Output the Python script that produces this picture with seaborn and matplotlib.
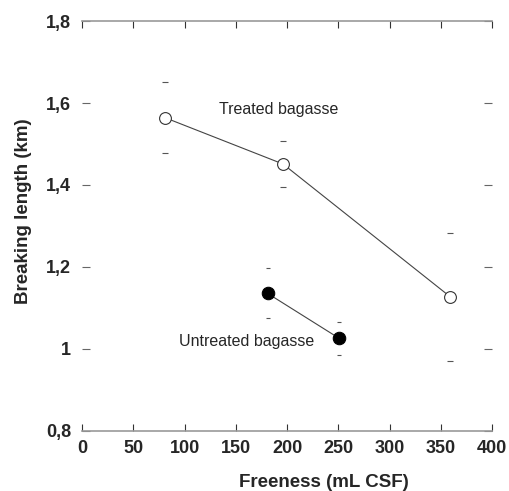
import seaborn as sns
import pandas as pd
import matplotlib.pyplot as plt
import numpy as np

# values
treated_x = [81, 196, 359]
treated_y = [1.564, 1.451, 1.127]
treated_err = [0.087, 0.057, 0.156]

untreated_x = [181, 251]
untreated_y = [1.135, 1.025]
untreated_err = [0.061, 0.041]

x_ticks = [0, 50, 100, 150, 200, 250, 300, 350, 400]
y_ticks = [0.8, 1.0, 1.2, 1.4, 1.6, 1.8]
y_labels = ['0,8', '1', '1,2', '1,4', '1,6', '1,8']

sns.set_style('white')
plt.rcParams['font.family'] = ['Liberation Sans', 'DejaVu Sans']

df_t = pd.DataFrame({'freeness': treated_x, 'length': treated_y})
df_u = pd.DataFrame({'freeness': untreated_x, 'length': untreated_y})

fig = plt.figure(figsize=(5.1, 4.91), dpi=100)
ax = fig.add_axes([0.161, 0.123, 0.804, 0.834])

sns.lineplot(data=df_t, x='freeness', y='length', ax=ax, color='#444444', lw=0.8,
             marker='o', markersize=8.5, markerfacecolor='white',
             markeredgecolor='#333333', markeredgewidth=0.8)
sns.lineplot(data=df_u, x='freeness', y='length', ax=ax, color='#444444', lw=0.8,
             marker='o', markersize=9, markerfacecolor='black',
             markeredgecolor='black')

# only caps are visible on the error bars
ax.errorbar(treated_x, treated_y, yerr=treated_err, fmt='none', elinewidth=0,
            capsize=2, capthick=0.8, ecolor='#555555')
ax.errorbar(untreated_x, untreated_y, yerr=untreated_err, fmt='none', elinewidth=0,
            capsize=1.5, capthick=0.8, ecolor='#555555')

ax.text(134, 1.585, 'Treated bagasse', fontsize=11.5, va='center', ha='left')
ax.text(95, 1.017, 'Untreated bagasse', fontsize=11.5, va='center', ha='left')

ax.set_xlim(0, 400)
ax.set_ylim(0.8, 1.8)
ax.set_xticks(x_ticks)
ax.set_yticks(y_ticks)
ax.set_yticklabels(y_labels)
for lab in ax.get_xticklabels() + ax.get_yticklabels():
    lab.set_fontweight('bold')
    lab.set_fontsize(13)

ax.tick_params(axis='x', direction='in', length=5, width=0.8, color='#333333',
               top=True, bottom=True, pad=7)
ax.tick_params(axis='y', direction='in', length=6, width=0.8, color='#666666',
               left=True, right=True, pad=8)

for side in ['left', 'right']:
    ax.spines[side].set_visible(False)
for side in ['top', 'bottom']:
    ax.spines[side].set_color('#999999')
    ax.spines[side].set_linewidth(1.2)

ax.set_xlabel('Freeness (mL CSF)', fontsize=13.5, fontweight='bold')
ax.set_ylabel('Breaking length (km)', fontsize=13.5, fontweight='bold')
ax.xaxis.set_label_coords(0.59, -0.107)
ax.yaxis.set_label_coords(-0.123, 0.537)

fig.savefig('out.png', dpi=100)
